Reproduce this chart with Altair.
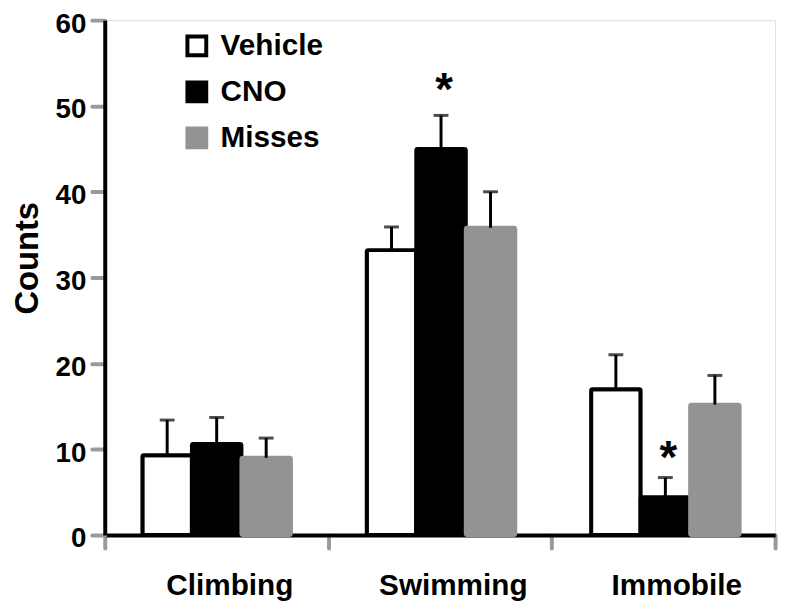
import altair as alt
import pandas as pd

categories = ["Climbing", "Swimming", "Immobile"]
groups = ["Vehicle", "CNO", "Misses"]

vehicle = [9.3, 33.2, 17.0]
vehicle_err = [4.1, 2.7, 4.0]
cno = [10.6, 45.0, 4.4]
cno_err = [3.1, 3.9, 2.3]
misses = [9.0, 35.8, 15.2]
misses_err = [2.3, 4.2, 3.4]
# significance markers (CNO vs Vehicle) and the height (in counts) where they sit
cno_star = ["", "*", "*"]
cno_star_y = [None, 52.5, 9.7]

y_ticks = [0, 10, 20, 30, 40, 50, 60]

rows = []
for i, c in enumerate(categories):
    for g, m, e, s, sy in (("Vehicle", vehicle, vehicle_err, None, None),
                           ("CNO", cno, cno_err, cno_star, cno_star_y),
                           ("Misses", misses, misses_err, None, None)):
        rows.append({"cat": c, "grp": g, "mean": m[i], "err": e[i],
                     "top": m[i] + e[i],
                     "star": (s[i] if s else ""),
                     "star_y": (sy[i] if sy else None)})
df = pd.DataFrame(rows)
cat_df = pd.DataFrame({"cat": categories})

FONT = "Liberation Sans"
GRAY = "#939393"
TICK_GRAY = "#9a9a9a"

x = alt.X("cat:N", sort=categories,
          scale=alt.Scale(paddingInner=0.338, paddingOuter=0.163, align=0.515),
          axis=None)
xo = alt.XOffset("grp:N", sort=groups)
y_scale = alt.Scale(domain=[0, 60], nice=False)

legend = alt.Legend(title=None, orient="none", legendX=78, legendY=11,
                    symbolType="square", symbolSize=361, symbolStrokeWidth=4,
                    labelFontSize=30, labelFont=FONT, labelFontWeight="bold",
                    labelColor="black", labelOffset=9, rowPadding=10.5)

base = alt.Chart(df)

bars = base.mark_bar(strokeWidth=4, cornerRadius=1.5).encode(
    x=x, xOffset=xo,
    y=alt.Y("mean:Q", scale=y_scale,
            axis=alt.Axis(values=y_ticks, title="Counts", grid=False,
                          labelFontSize=28, labelFont=FONT, labelFontWeight="bold",
                          labelColor="black", labelPadding=6, labelOffset=4,
                          domainColor="black", domainWidth=4,
                          tickColor=TICK_GRAY, tickWidth=4, tickSize=13, tickCap="round",
                          titleFontSize=33, titleFont=FONT, titleFontWeight="bold",
                          titleColor="black", titleX=-78, titleY=240,
                          titleAngle=270, titleAlign="center", titleBaseline="middle")),
    fill=alt.Fill("grp:N", sort=groups,
                  scale=alt.Scale(domain=groups, range=["white", "black", GRAY]),
                  legend=legend),
    stroke=alt.Stroke("grp:N", sort=groups,
                      scale=alt.Scale(domain=groups, range=["black", "black", GRAY]),
                      legend=legend),
)

rules = base.mark_rule(color="black", strokeWidth=3).encode(
    x=x, xOffset=xo, y=alt.Y("mean:Q", scale=y_scale), y2="top:Q")

caps = base.mark_tick(color="black", thickness=3, size=15).encode(
    x=x, xOffset=xo, y=alt.Y("top:Q", scale=y_scale))

stars = base.transform_filter(alt.datum.star != "").mark_text(
    font=FONT, fontWeight="bold", fontSize=46, color="black",
    baseline="alphabetic", dx=3, dy=21).encode(
    x=x, xOffset=xo, y=alt.Y("star_y:Q", scale=y_scale), text="star:N")

data_layers = alt.layer(bars, rules, caps, stars)

# category axis: ticks at the boundaries between the category bands
axis_layer = alt.Chart(cat_df).mark_bar(opacity=0).encode(
    x=alt.X("cat:N", sort=categories,
            scale=alt.Scale(type="band", paddingInner=0, paddingOuter=0),
            axis=alt.Axis(title=None, labelAngle=0, tickBand="extent",
                          labelFontSize=30, labelFont=FONT, labelFontWeight="bold",
                          labelColor="black", labelPadding=23, labelOffset=13,
                          domainColor="black", domainWidth=4,
                          tickColor=TICK_GRAY, tickWidth=4, tickSize=13,
                          tickCap="round")),
)

chart = alt.layer(data_layers, axis_layer).resolve_scale(x="independent").properties(
    width=677, height=520,
    autosize=alt.AutoSizeParams(type="none"),
    padding={"left": 97.7, "top": 9.3, "right": 12, "bottom": 70},
).configure_view(stroke=None).configure(background="white")

chart.save("out.html", embed_options={"renderer": "svg", "actions": False})
